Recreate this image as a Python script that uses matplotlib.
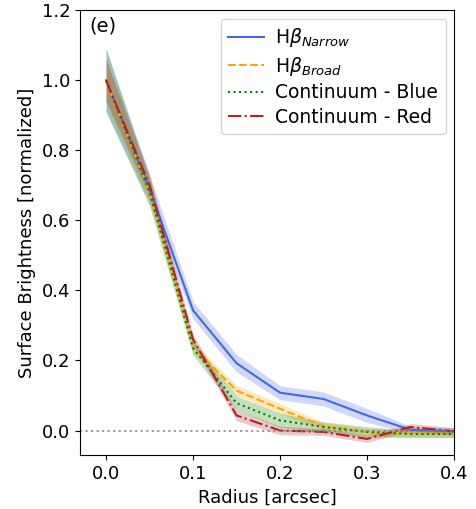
import matplotlib
matplotlib.use("Agg")
import matplotlib.pyplot as plt
import numpy as np

# radii of the profile bins
radius = [0.0, 0.05, 0.1, 0.15, 0.2, 0.25, 0.3, 0.35, 0.4]

# normalized surface brightness per component
hb_narrow = [1.0, 0.69, 0.343, 0.192, 0.108, 0.090, 0.043, 0.002, -0.002]
hb_broad = [1.0, 0.68, 0.238, 0.114, 0.062, 0.012, -0.004, -0.008, -0.010]
cont_blue = [1.0, 0.68, 0.235, 0.078, 0.029, 0.010, -0.004, -0.010, -0.010]
cont_red = [1.0, 0.70, 0.260, 0.043, 0.000, -0.004, -0.024, 0.010, -0.002]

# 1-sigma uncertainties
err_narrow = [0.09, 0.04, 0.025, 0.025, 0.02, 0.02, 0.02, 0.01, 0.01]
err_broad = [0.06, 0.03, 0.015, 0.015, 0.015, 0.01, 0.01, 0.01, 0.01]
err_blue = [0.09, 0.04, 0.02, 0.02, 0.02, 0.015, 0.015, 0.01, 0.01]
err_red = [0.06, 0.03, 0.015, 0.015, 0.012, 0.01, 0.01, 0.01, 0.01]

series = [
    (hb_narrow, err_narrow, '#4169e1', '-', r'H$\beta_{Narrow}$'),
    (hb_broad, err_broad, 'orange', '--', r'H$\beta_{Broad}$'),
    (cont_blue, err_blue, 'green', ':', 'Continuum - Blue'),
    (cont_red, err_red, '#b22222', '-.', 'Continuum - Red'),
]

fig = plt.figure(figsize=(4.76, 5.09), dpi=100)
ax = fig.add_axes([0.168, 0.106, 0.786, 0.874])

x = np.array(radius)
for vals, err, col, ls, lab in series:
    y = np.array(vals)
    e = np.array(err)
    ax.fill_between(x, y - e, y + e, color=col, alpha=0.25, lw=0)
    ax.plot(x, y, color=col, ls=ls, lw=1.5, label=lab)

ax.axhline(0, color='grey', ls=':', lw=1.5, alpha=0.8)

ax.set_xlim(-0.03, 0.4)
ax.set_ylim(-0.07, 1.2)
ax.set_xticks([0.0, 0.1, 0.2, 0.3, 0.4])
ax.set_xlabel('Radius [arcsec]', fontsize=13)
ax.set_ylabel('Surface Brightness [normalized]', fontsize=13)
ax.tick_params(labelsize=13)
ax.text(0.025, 0.985, '(e)', transform=ax.transAxes, fontsize=14, va='top')
ax.legend(loc='upper right', fontsize=13.5, handlelength=1.9,
          handletextpad=0.6, borderaxespad=0.45, labelspacing=0.3)

fig.savefig('out.png', dpi=100)
